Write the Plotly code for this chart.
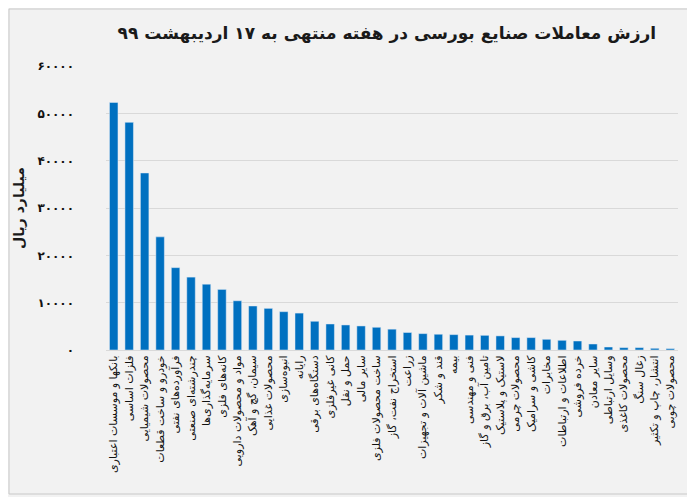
import plotly.graph_objects as go

# industries, sorted by trade value (billion rials)
industries = [
    "بانکها و موسسات اعتباری", "فلزات اساسی", "محصولات شیمیایی", "خودرو و ساخت قطعات",
    "فرآورده‌های نفتی", "چندرشته‌ای صنعتی", "سرمایه‌گذاری‌ها", "کانه‌های فلزی",
    "مواد و محصولات دارویی", "سیمان، گچ و آهک", "محصولات غذایی", "انبوه‌سازی",
    "رایانه", "دستگاه‌های برقی", "کانی غیرفلزی", "حمل و نقل", "سایر مالی",
    "ساخت محصولات فلزی", "استخراج نفت، گاز", "زراعت", "ماشین آلات و تجهیزات",
    "قند و شکر", "بیمه", "فنی و مهندسی", "تامین آب، برق و گاز", "لاستیک و پلاستیک",
    "محصولات چرمی", "کاشی و سرامیک", "مخابرات", "اطلاعات و ارتباطات", "خرده فروشی",
    "سایر معادن", "وسایل ارتباطی", "محصولات کاغذی", "زغال سنگ",
    "انتشار، چاپ و تکثیر", "محصولات چوبی",
]
trade_value = [
    52300, 48100, 37400, 23900, 17400, 15400, 13900, 12800, 10400, 9300,
    8800, 8100, 7800, 6070, 5500, 5290, 5080, 4800, 4400, 3700,
    3460, 3330, 3250, 3150, 3100, 2980, 2620, 2620, 2260, 2050,
    1900, 1270, 630, 500, 500, 360, 290,
]

y_ticks = [0, 10000, 20000, 30000, 40000, 50000, 60000]
y_tick_text = ["۰", "۱۰۰۰۰", "۲۰۰۰۰", "۳۰۰۰۰", "۴۰۰۰۰", "۵۰۰۰۰", "۶۰۰۰۰"]

title = "ارزش معاملات صنایع بورسی در هفته منتهی به ۱۷ اردیبهشت ۹۹"

fnt = "DejaVu Sans"

fig = go.Figure(go.Bar(
    x=industries, y=trade_value,
    marker_color="#0070c0",
))

# page body has an 8px margin, so the figure is a bit smaller than the window
fig.update_layout(
    width=687, height=489,
    paper_bgcolor="#f2f2f2", plot_bgcolor="#f2f2f2",
    margin=dict(l=98, r=17, t=58, b=147),
    bargap=0.45,
    showlegend=False,
    title=dict(text="<b>" + title + "</b>", xref="paper", x=0.491, xanchor="center",
               y=0.949, yanchor="middle", font=dict(family=fnt, size=17, color="#1a1a1a")),
    font=dict(family=fnt, color="#1a1a1a"),
)
fig.update_xaxes(tickangle=-90, tickfont=dict(size=11, color="#111"),
                 showline=True, linecolor="#d9d9d9", ticks="", automargin=False)
fig.update_yaxes(range=[0, 60000], tickvals=y_ticks,
                 ticktext=["<b>" + t + "</b>" for t in y_tick_text],
                 tickfont=dict(size=12, color="#111"), gridcolor="#d9d9d9",
                 zeroline=False, ticklabelstandoff=31, automargin=False,
                 title=dict(text="<b>میلیارد ریال</b>", font=dict(size=14), standoff=9))

fig.add_shape(type="rect", xref="paper", yref="paper",
              x0=-0.1696, x1=1.0227, y0=-0.507, y1=1.2007,
              line=dict(color="#c8c8c8", width=1))

fig.write_html("out.html")
